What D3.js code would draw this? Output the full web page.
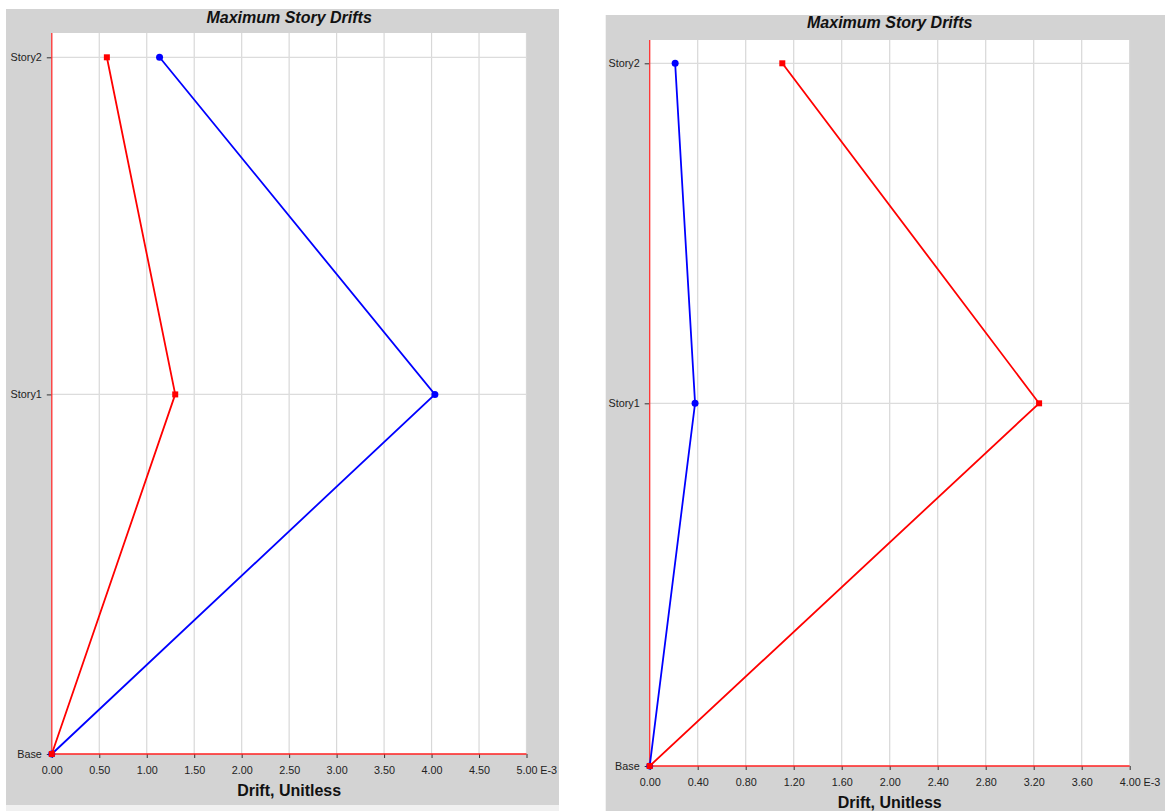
<!DOCTYPE html>
<html>
<head>
<meta charset="utf-8">
<script src="https://cdn.jsdelivr.net/npm/d3@7"></script>
<style>
  body { margin: 0; background: #fff; }
  svg { display: block; font-family: "Liberation Sans", Arial, sans-serif; }
</style>
</head>
<body>
<svg id="chart" width="1165" height="811"></svg>
<script>
// story levels (elevation used for vertical spacing)
var stories = ["Base", "Story1", "Story2"];
var elevations = [0, 3.2, 6.2];

// drift values, E-3
var leftBlue = [0, 4.035, 1.135];
var leftRed = [0, 1.30, 0.58];
var rightBlue = [0, 0.378, 0.212];
var rightRed = [0, 3.245, 1.105];

var leftTicks = [0, 0.5, 1, 1.5, 2, 2.5, 3, 3.5, 4, 4.5, 5];
var rightTicks = [0, 0.4, 0.8, 1.2, 1.6, 2, 2.4, 2.8, 3.2, 3.6, 4];

var titleText = "Maximum Story Drifts";
var xLabelText = "Drift, Unitless";

var svg = d3.select("#chart");

var panels = [
    { bg: [6, 9, 553, 796], plot: [51.8, 33, 526.5, 754], baseY: 754, topY: 57.3,
      ticks: leftTicks, blue: leftBlue, red: leftRed, titleY: 22.7, strip: true },
    { bg: [605.7, 15, 560, 800], plot: [649.7, 40, 1129.7, 766], baseY: 766, topY: 63.3,
      ticks: rightTicks, blue: rightBlue, red: rightRed, titleY: 28.3, strip: false }
];

panels.forEach(function (p) {
    var g = svg.append("g");

    g.append("rect")
        .attr("x", p.bg[0]).attr("y", p.bg[1])
        .attr("width", p.bg[2]).attr("height", p.bg[3])
        .attr("fill", "#d3d3d3");

    if (p.strip) {
        g.append("rect")
            .attr("x", p.bg[0]).attr("y", p.bg[1] + p.bg[3])
            .attr("width", p.bg[2]).attr("height", 8)
            .attr("fill", "#f0f0f0");
    }

    var x0 = p.plot[0], y0 = p.plot[1], x1 = p.plot[2], y1 = p.plot[3];

    g.append("rect")
        .attr("x", x0).attr("y", y0)
        .attr("width", x1 - x0).attr("height", y1 - y0)
        .attr("fill", "#fff");

    var x = d3.scaleLinear()
        .domain([p.ticks[0], p.ticks[p.ticks.length - 1]])
        .range([x0, x1]);

    var y = d3.scaleLinear()
        .domain([elevations[0], elevations[elevations.length - 1]])
        .range([p.baseY, p.topY]);

    // vertical gridlines
    g.append("g")
        .selectAll("line")
        .data(p.ticks.slice(1))
        .enter().append("line")
        .attr("x1", function (d) { return x(d); })
        .attr("x2", function (d) { return x(d); })
        .attr("y1", y0).attr("y2", y1)
        .attr("stroke", "#d8d8d8")
        .attr("stroke-width", 1.2);

    // horizontal gridlines at stories
    g.append("g")
        .selectAll("line")
        .data(elevations.slice(1))
        .enter().append("line")
        .attr("x1", x0).attr("x2", x1)
        .attr("y1", function (d) { return y(d); })
        .attr("y2", function (d) { return y(d); })
        .attr("stroke", "#dcdcdc")
        .attr("stroke-width", 1.2);

    // x axis
    var xAxis = g.append("g")
        .attr("transform", "translate(0," + p.baseY + ")")
        .call(d3.axisBottom(x).tickValues(p.ticks).tickFormat(d3.format(".2f")).tickSize(4).tickSizeOuter(0));
    xAxis.select(".domain").remove();
    xAxis.selectAll(".tick line").attr("stroke", "#333");
    xAxis.selectAll(".tick text")
        .attr("y", 0).attr("dy", null)
        .attr("transform", "translate(0,19.5)")
        .style("font-size", "10.8px")
        .attr("fill", "#222");
    xAxis.append("text")
        .attr("x", x(p.ticks[p.ticks.length - 1]) + 13.8)
        .attr("y", 19.5)
        .attr("text-anchor", "start")
        .style("font-size", "10.8px")
        .attr("fill", "#222")
        .text("E-3");

    // y axis
    var yAxis = g.append("g")
        .attr("transform", "translate(" + x0 + ",0)")
        .call(d3.axisLeft(y).tickValues(elevations).tickFormat(function (d, i) { return stories[i]; }).tickSize(5).tickSizeOuter(0));
    yAxis.select(".domain").remove();
    yAxis.selectAll(".tick line").attr("stroke", "#333");
    yAxis.selectAll(".tick text")
        .attr("x", -10)
        .style("font-size", "10.8px")
        .attr("fill", "#222");

    // axis lines
    g.append("line")
        .attr("x1", x0).attr("x2", x0).attr("y1", y0).attr("y2", p.baseY)
        .attr("stroke", "#ff3030").attr("stroke-width", 1.3);
    g.append("line")
        .attr("x1", x0).attr("x2", x1).attr("y1", p.baseY).attr("y2", p.baseY)
        .attr("stroke", "#ff2020").attr("stroke-width", 1.5);

    // title and x label
    var cx = (x0 + x1) / 2;
    g.append("text")
        .attr("x", cx).attr("y", p.titleY)
        .attr("text-anchor", "middle")
        .style("font-size", "16px")
        .style("font-weight", "bold")
        .style("font-style", "italic")
        .attr("fill", "#111")
        .text(titleText);
    g.append("text")
        .attr("x", cx).attr("y", p.baseY + 41.5)
        .attr("text-anchor", "middle")
        .style("font-size", "16px")
        .style("font-weight", "bold")
        .attr("fill", "#111")
        .text(xLabelText);

    var line = d3.line()
        .x(function (d) { return x(d); })
        .y(function (d, i) { return y(elevations[i]); });

    // blue series
    g.append("path")
        .datum(p.blue)
        .attr("d", line)
        .attr("fill", "none")
        .attr("stroke", "#0000ff")
        .attr("stroke-width", 1.8);
    g.append("g")
        .selectAll("circle")
        .data(p.blue)
        .enter().append("circle")
        .attr("cx", function (d) { return x(d); })
        .attr("cy", function (d, i) { return y(elevations[i]); })
        .attr("r", 3.5)
        .attr("fill", "#0000ff");

    // red series
    g.append("path")
        .datum(p.red)
        .attr("d", line)
        .attr("fill", "none")
        .attr("stroke", "#ff0000")
        .attr("stroke-width", 1.8);
    g.append("g")
        .selectAll("rect")
        .data(p.red)
        .enter().append("rect")
        .attr("x", function (d) { return x(d) - 3; })
        .attr("y", function (d, i) { return y(elevations[i]) - 3; })
        .attr("width", 6).attr("height", 6)
        .attr("fill", "#ff0000");
});
</script>
</body>
</html>
